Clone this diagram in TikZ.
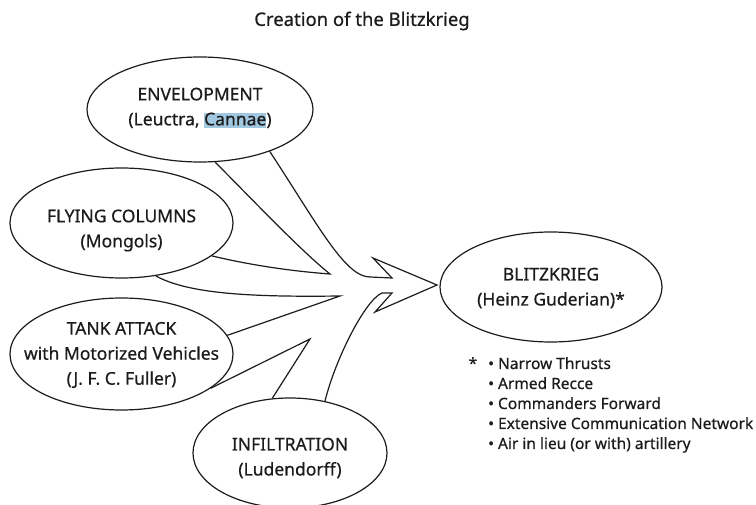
\documentclass[tikz,border=0pt]{standalone}
\usepackage{fontspec}
\setmainfont{Noto Sans}[FakeBold=0.6]
\usetikzlibrary{shapes.geometric}
\definecolor{ink}{RGB}{30,27,28}
\definecolor{hl}{RGB}{160,200,225}
\begin{document}
\begin{tikzpicture}[x=1pt,y=-1pt,
  oval/.style={ellipse, draw=ink, line width=1.2pt, inner sep=0pt},
  lbl/.style={align=center, text=ink, inner sep=0pt, font=\fontsize{17.5}{25}\selectfont},
  edge/.style={draw=ink, line width=1.2pt, line join=miter}]
\useasboundingbox (0,0) rectangle (756,505);
\fill[white] (0,0) rectangle (756,505);
% ellipses
\node[oval, minimum width=226pt, minimum height=105pt] (env) at (200,109.5) {};
\node[oval, minimum width=223pt, minimum height=110pt] (fc) at (121.5,223) {};
\node[oval, minimum width=223pt, minimum height=112pt] (tank) at (121.5,354) {};
\node[oval, minimum width=194pt, minimum height=110pt] (inf) at (290,453) {};
\node[oval, minimum width=222pt, minimum height=110pt] (blitz) at (551,287) {};
% texts
\node[lbl] (title) at (362,21) {\fontsize{18.5}{20}\selectfont Creation of the Blitzkrieg};
\node[lbl] (envt) at (200,108) {ENVELOPMENT\\(Leuctra, {\setlength{\fboxsep}{0pt}\colorbox{hl}{\rule[-3pt]{0pt}{15pt}Cannae}})};
\node[lbl] (fct) at (121.5,230.5) {FLYING COLUMNS\\(Mongols)};
\node[lbl] (tankt) at (121.5,355) {TANK ATTACK\\with Motorized Vehicles\\(J. F. C. Fuller)};
\node[lbl] (inft) at (290,458) {INFILTRATION\\(Ludendorff)};
\node[lbl] (blitzt) at (551,288) {BLITZKRIEG\\(Heinz Guderian)*};
\node[lbl, align=left, anchor=north west, font=\fontsize{15.5}{20}\selectfont] (notes) at (488,357)
  {\llap{*\hspace{11pt}}• Narrow Thrusts\\• Armed Recce\\• Commanders Forward\\• Extensive Communication Network\\• Air in lieu (or with) artillery};
% merging arrow
\draw[edge] (env.-31) .. controls (318,225) and (345,277) .. (370,277) -- (392,278) -- (373,258)
  -- (437,285) -- (375,312) -- (392,293) -- (382,293) .. controls (365,300) and (335,360) .. (inf.56);
\draw[edge] (env.-74) .. controls (250,197) and (300,250) .. (330,274)
  .. controls (290,271) and (250,265) .. (fc.-20);
\draw[edge] (fc.-57) .. controls (190,295) and (260,297) .. (340,296) -- (tank.10);
\draw[edge] (tank.-21) -- (310,339) -- (inf.108);
\end{tikzpicture}
\end{document}
